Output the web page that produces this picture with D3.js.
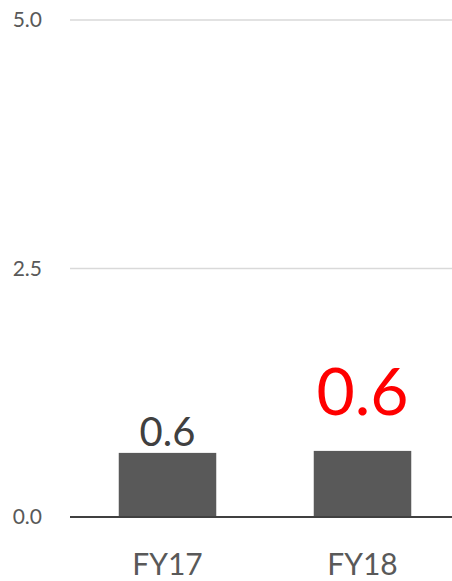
<!DOCTYPE html>
<html lang="en">
<head>
    <meta charset="UTF-8">
    <title>FY Chart</title>
    <script src="https://d3js.org/d3.v7.min.js"></script>
    <style>
        body { margin: 0; background: #fff; font-family: Lato, "Open Sans", sans-serif; }
        svg { display: block; }
        .grid line { stroke: #d9d9d9; stroke-width: 1.5px; }
        .tick-label { fill: #595959; font-size: 21px; }
        .cat-label { fill: #595959; font-size: 30px; }
    </style>
</head>
<body>
    <svg width="452" height="581"></svg>
    <script>
        const categories = ["FY17", "FY18"];
        const values = [0.645, 0.665];
        const valueLabels = ["0.6", "0.6"];
        const yTicks = [0, 2.5, 5];

        const svg = d3.select("svg");

        const x = d3.scaleBand()
            .domain(categories)
            .range([70, 460])
            .paddingInner(0.5)
            .paddingOuter(0.25);

        const y = d3.scaleLinear()
            .domain([0, 5])
            .range([517, 20]);

        // gridlines
        svg.append("g").attr("class", "grid")
            .selectAll("line")
            .data(yTicks.filter(d => d > 0))
            .enter().append("line")
            .attr("x1", 70).attr("x2", 452)
            .attr("y1", d => y(d)).attr("y2", d => y(d));

        // y tick labels
        svg.append("g")
            .selectAll("text")
            .data(yTicks)
            .enter().append("text")
            .attr("class", "tick-label")
            .attr("x", 42)
            .attr("y", d => y(d) + 7)
            .attr("text-anchor", "end")
            .text(d => d.toFixed(1));

        // bars
        svg.append("g")
            .selectAll("rect")
            .data(values)
            .enter().append("rect")
            .attr("x", (d, i) => x(categories[i]))
            .attr("width", x.bandwidth())
            .attr("y", d => y(d))
            .attr("height", d => y(0) - y(d))
            .attr("fill", "#595959");

        // baseline
        svg.append("line")
            .attr("x1", 70).attr("x2", 452)
            .attr("y1", y(0)).attr("y2", y(0))
            .attr("stroke", "#404040")
            .attr("stroke-width", 2);

        // value labels - FY18 is highlighted
        const labelStyle = [
            { size: 40, color: "#404040", gap: 7 },
            { size: 66, color: "#ff0000", gap: 36 }
        ];
        svg.append("g")
            .selectAll("text")
            .data(values)
            .enter().append("text")
            .attr("x", (d, i) => x(categories[i]) + x.bandwidth() / 2)
            .attr("y", (d, i) => y(d) - labelStyle[i].gap)
            .attr("text-anchor", "middle")
            .attr("font-size", (d, i) => labelStyle[i].size + "px")
            .attr("fill", (d, i) => labelStyle[i].color)
            .text((d, i) => valueLabels[i]);

        // category labels
        svg.append("g")
            .selectAll("text")
            .data(categories)
            .enter().append("text")
            .attr("class", "cat-label")
            .attr("x", d => x(d) + x.bandwidth() / 2)
            .attr("y", 575)
            .attr("text-anchor", "middle")
            .text(d => d);
    </script>
</body>
</html>
